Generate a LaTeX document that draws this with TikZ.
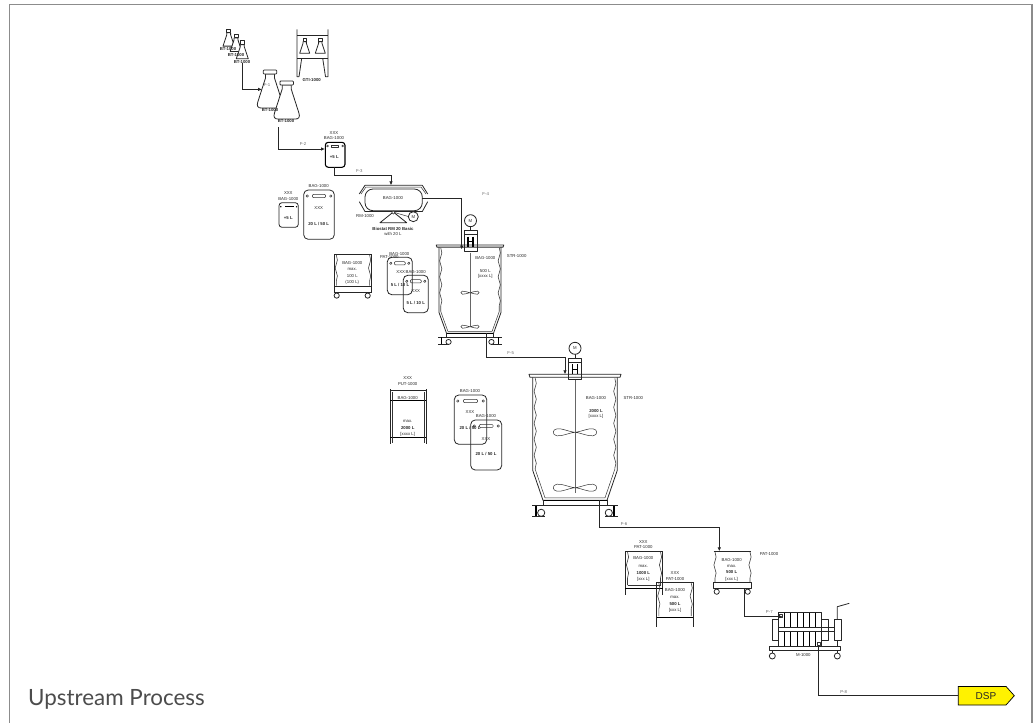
\documentclass[tikz,border=0pt]{standalone}
\usepackage{fontspec}
\setmainfont{Liberation Sans}
\newfontfamily\titlefont{Lato}
\usetikzlibrary{arrows.meta,decorations.pathmorphing}
\definecolor{framegray}{gray}{0.55}
\definecolor{txtgray}{gray}{0.3}
\def\whx{33.8}
\tikzset{
  lbl/.style={inner sep=0pt,font=\fontsize{4.3}{5}\selectfont,text=black!85},
  lblb/.style={lbl,font=\fontsize{4.3}{5}\selectfont\bfseries},
  lblg/.style={lbl,text=black!60},
  pipe/.style={draw=black!85,line width=0.8pt},
  pipearrow/.style={pipe,-{Latex[length=4pt,width=3.6pt]}},
  vessel/.style={draw=black!85,line width=0.8pt,line join=round},
  thickv/.style={draw=black,line width=1.1pt,line join=round},
  thinv/.style={draw=black!80,line width=0.5pt,line join=round},
  wavy/.style={draw=black!75,line width=0.6pt,decorate,decoration={snake,segment length=16pt,amplitude=1.1pt}},
  bigflask/.pic={
    \draw[vessel,fill=white] (-4.5,4) -- (-4.5,8) -- (-12.2,32) .. controls (-13.6,36) and (-12,38) .. (-9,38)
      -- (9,38) .. controls (12,38) and (13.6,36) .. (12.2,32) -- (4.5,8) -- (4.5,4) -- cycle;
    \draw[vessel,fill=white,rounded corners=0.8pt] (-6.7,0) rectangle (6.7,4);
  },
  smallflask/.pic={
    \draw[vessel,fill=white] (-2,4) -- (-2,6) -- (-6,18) -- (6,18) -- (2,6) -- (2,4) -- cycle;
    \draw[vessel,fill=white] (-2,0) rectangle (2,4);
  },
  stirred/.pic={
    \draw[vessel] (-46,0) -- (46,0) -- (45,3) -- (-45,3) -- cycle;
    \draw[vessel] (-42.3,3) -- (-42.3,96) -- (-32,126) -- (32,126) -- (42.3,96) -- (42.3,3);
    \draw[wavy] (-39.8,4) -- (-39.8,95);
    \draw[wavy] (39.8,4) -- (39.8,95);
    \draw[thinv] (-39.8,95) -- (-30,123.5) -- (30,123.5) -- (39.8,95);
    \draw[thickv] (-32,126) -- (32,126);
    \draw[vessel] (-43,131.5) -- (43,131.5);
    \draw[vessel] (-32,126) -- (-32,131.5) (32,126) -- (32,131.5);
    \draw[thickv] (-39,131.5) -- (-39,142) (39,131.5) -- (39,142);
    \draw[vessel] (-43,142) -- (-30,142) (43,142) -- (30,142);
    \draw[vessel,fill=white] (-\whx,138.5) circle (3.6) (\whx,138.5) circle (3.6);
  },
  impeller/.pic={
    \draw[thinv,fill=white] (0,0) .. controls (-8,-1) and (-12,-4) .. (-18,-3.5) .. controls (-23,-3) and (-23,3) .. (-18,3.5) .. controls (-12,4) and (-8,1) .. (0,0)
      .. controls (8,-1) and (12,-4) .. (18,-3.5) .. controls (23,-3) and (23,3) .. (18,3.5) .. controls (12,4) and (8,1) .. (0,0);
  },
  drive/.pic={
    \draw[vessel] (-6.5,0) rectangle (6.5,21);
    \draw[vessel] (-6.5,4) -- (6.5,4);
    \draw[line width=1.3pt] (-2.6,6) -- (-2.6,16) (2.6,6) -- (2.6,16) (-2.6,11) -- (2.6,11);
    \draw[vessel] (0,0) -- (0,-4);
    \draw[vessel,fill=white] (0,-10) circle (6);
    \node[lbl] (-m) at (0,-10) {M};
  },
}
% soft bag: name, x1, y1, x2, y2
\newcommand\softbag[5]{%
  \pgfmathsetmacro\bagm{(#2+#4)/2}%
  \pgfmathsetmacro\bagw{(#4-#2)}%
  \pgfmathsetmacro\slot{0.22*\bagw}%
  \pgfmathsetmacro\slotl{\bagm-\slot}\pgfmathsetmacro\slotr{\bagm+\slot}%
  \pgfmathsetmacro\caly{#3+6}%
  \pgfmathsetmacro\cl{#2+3.5}\pgfmathsetmacro\cr{#4-3.5}%
  \coordinate (#1) at (\bagm,#3);
  \draw[vessel,rounded corners=4.5pt] (#2,#3) rectangle (#4,#5);
  \draw[thinv,rounded corners=1pt] (\slotl,\caly-1.6) rectangle (\slotr,\caly+1.6);
  \draw[thinv] (\cl,\caly) circle (1.2) (\cr,\caly) circle (1.2);
}
\begin{document}
\begin{tikzpicture}[x=1pt,y=-1pt]
\useasboundingbox (0,0) rectangle (1034,723);
% frame
\draw[framegray,line width=1.3pt] (9.5,723) -- (9.5,4.5) -- (1032,4.5) -- (1032,723);
\node[anchor=base west,inner sep=0pt,font=\titlefont\fontsize{22.4}{26}\selectfont,text=txtgray] (title) at (28,705) {Upstream Process};

% ---- small flasks
\path (228.7,29) pic[scale=0.95] {smallflask};
\path (236,34) pic[scale=0.97] {smallflask};
\path (242.3,40.7) pic {smallflask};
\node[lblb] (bt1) at (228,48.7) {BT-1000};
\node[lblb] (bt2) at (236,55) {BT-1000};
\node[lblb] (bt3) at (242,61.7) {BT-1000};
% incubator
\draw[vessel] (297,29.3) -- (297,76.7) -- (299,76.7) -- (301.7,58.3);
\draw[vessel] (328,29.3) -- (328,76.7) -- (325.5,76.7) -- (322.7,58.3);
\draw[vessel] (297,35) -- (328,35);
\draw[vessel] (297,58.3) -- (328,58.3);
\path (304.7,38.3) pic[scale=0.83] {smallflask};
\path (320.3,38.3) pic[scale=0.83] {smallflask};
\node[lblb] (gti) at (311.7,79.7) {GTI-1000};
% big flasks
\path (270,70) pic {bigflask};
\path (286.7,81) pic {bigflask};
\node[lblg] (f1) at (267,85) {F-1};
\node[lblb] (bt4) at (270,110) {BT-1000};
\node[lblb] (bt5) at (286,121) {BT-1000};

% ---- 5 L bag
\coordinate (bagA) at (334.5,142.3);
\draw[thickv,rounded corners=3pt] (325.3,142.3) rectangle (345,167.3);
\draw[thinv] (331,145) rectangle (338.7,147.2);
\draw[thinv] (327.5,146) circle (0.9) (342.7,146) circle (0.9);
\node[lbl] (t1) at (334,132.7) {XXX};
\node[lbl] (t2) at (334,138.3) {BAG-1000};
\node[lblb] (t3) at (334.3,157.3) {+5 L};

% ---- rocker
\draw[vessel,rounded corners=8pt] (365,189) rectangle (422.3,210.7);
\draw[vessel] (359.3,194) -- (365,185.3) -- (422.3,185.3) -- (427.7,194);
\draw[vessel] (359.3,201.7) -- (365,211.5) -- (422.3,211.5) -- (427.7,201.7);
\draw[thinv] (361,194) -- (366,187) -- (421,187) -- (426,194);
\node[lbl] (t4) at (393,198.3) {BAG-1000};
\draw[vessel] (393.3,212) -- (380,222.7) -- (406.7,222.7) -- cycle;
\draw[thinv,fill=white] (393.3,212.5) circle (1.6);
\draw[thinv] (394.5,212.5) -- (409,216.7);
\draw[vessel,fill=white] (413.3,216.7) circle (5);
\node[lbl] (t5) at (413.3,216.7) {M};
\node[lbl] (t6) at (365,216) {RM-1000};
\node[lblb] (t7) at (393,229) {Biostat RM 20 Basic};
\node[lbl] (t8) at (393,234) {with 20 L};
\node[lblg] (t9) at (485.7,194.3) {F-4};

% ---- bags row 1
\draw[vessel,rounded corners=3pt] (279,202.7) rectangle (298.3,227.3);
\draw[line width=1.2pt] (285,206.7) -- (294,206.7);
\fill (280.8,206.7) circle (0.8) (296.6,206.7) circle (0.8);
\node[lbl] (t10) at (288.3,192.7) {XXX};
\node[lbl] (t11) at (288.3,199) {BAG-1000};
\node[lblb] (t12) at (288.3,217.7) {+5 L};
\softbag{bagB}{303.7}{190}{334.3}{239.3}
\node[lbl] (t13) at (318.7,186) {BAG-1000};
\node[lbl] (t14) at (318.7,208.3) {XXX};
\node[lblb] (t15) at (318.7,224) {20 L / 50 L};

% ---- 100 L cart
\draw[vessel] (334,254) -- (334,292.7) (371.7,254) -- (371.7,292.7) (334,254) -- (371.7,254);
\draw[wavy] (336.3,255) -- (336.3,285.5);
\draw[wavy] (369.6,255) -- (369.6,285.5);
\draw[vessel] (334,286) -- (371.7,286) (334,292.7) -- (371.7,292.7);
\draw[vessel] (336.7,295.6) circle (2.6) (367.7,295.6) circle (2.6);
\node[lbl] (t16) at (352.3,263.3) {BAG-1000};
\node[lbl] (t17) at (352.3,269) {max.};
\node[lbl] (t18) at (352.3,276) {100 L};
\node[lbl] (t19) at (352.3,282.3) {(100 L)};

% ---- 5/10 L bags
\softbag{bagC}{387.3}{257.3}{412.3}{294.7}
\softbag{bagD}{403.3}{275.3}{428.3}{312.7}
\node[lbl] (t20) at (389.3,256.7) {PAT-1000};
\node[lbl] (t21) at (399.3,253.7) {BAG-1000};
\node[lbl] (t22) at (400.7,272.3) {XXX};
\node[lblb] (t23) at (400,285) {5 L / 10 L};
\node[lbl] (t24) at (415.7,271.7) {BAG-1000};
\node[lbl] (t25) at (415.7,291) {XXX};
\node[lblb] (t26) at (415.7,302.7) {5 L / 10 L};

% ---- STR 500
\def\whx{29.2}
\path (470,245) pic[xscale=0.735,yscale=0.7] {stirred};
\draw[draw=black!60,line width=0.9pt] (470,252.7) -- (470,327);
\path (470,292.7) pic[xscale=0.42,yscale=0.45] {impeller};
\path (470,326.7) pic[xscale=0.42,yscale=0.45] {impeller};
\path (470.5,230.7) pic (drvA) {drive};
\node[lbl] (t27) at (485.3,257.7) {BAG-1000};
\node[lbl] (t28) at (485.3,270.7) {500 L};
\node[lbl] (t29) at (485.3,276.7) {[xxxx L]};
\node[lbl] (t30) at (516.7,255.7) {STR-1000};

% ---- PAT 2000
\draw[vessel] (390,389.3) -- (390,444.3) (426,389.3) -- (426,444.3);
\draw[vessel] (390,390.7) -- (426,390.7);
\draw[thickv] (390,400.7) -- (426,400.7) (390,437.3) -- (426,437.3);
\draw[thinv] (392,392) -- (392,443) (424,392) -- (424,443);
\node[lbl] (t31) at (407.7,378.3) {XXX};
\node[lbl] (t32) at (407.7,384) {PUT-1000};
\node[lbl] (t33) at (407.7,398) {BAG-1000};
\node[lbl] (t34) at (407.7,421) {max.};
\node[lblb] (t35) at (407.7,427.7) {2000 L};
\node[lbl] (t36) at (407.7,434) {[xxxx L]};

% ---- 20/50 L bags
\softbag{bagE}{454.3}{395}{486.7}{444.3}
\softbag{bagF}{470.7}{420}{501.7}{470}
\node[lbl] (t37) at (470,391) {BAG-1000};
\node[lbl] (t38) at (470,411.7) {XXX};
\node[lblb] (t39) at (470,427.7) {20 L / 50 L};
\node[lbl] (t40) at (486,416.3) {BAG-1000};
\node[lbl] (t41) at (486,439) {XXX};
\node[lblb] (t42) at (486,454) {20 L / 50 L};

% ---- STR 2000
\def\whx{33.8}
\path (575,374.3) pic {stirred};
\draw[draw=black!60,line width=0.9pt] (575,379) -- (575,493);
\path (575,432.3) pic {impeller};
\path (575,487.7) pic {impeller};
\path (575,358.3) pic (drvB) {drive};
\node[lbl] (t43) at (596,397.7) {BAG-1000};
\node[lblb] (t44) at (596,410.7) {2000 L};
\node[lbl] (t45) at (596,416.7) {[xxxx L]};
\node[lbl] (t46) at (633.3,397.7) {STR-1000};

% ---- carts A,B,C
\draw[vessel] (625.3,551.3) -- (625.3,595) (662.7,551.3) -- (662.7,595) (625.3,551.3) -- (662.7,551.3);
\draw[wavy] (627.5,552) -- (627.5,585);
\draw[wavy] (660.5,552) -- (660.5,585);
\draw[thinv] (627.5,585.3) -- (660.5,585.3);
\draw[thickv] (625.3,588.3) -- (662.7,588.3);
\node[lbl] (t47) at (643.3,542) {XXX};
\node[lbl] (t48) at (643.3,547) {PAT-1000};
\node[lbl] (t49) at (643.3,558) {BAG-1000};
\node[lbl] (t50) at (643.3,566) {max.};
\node[lblb] (t51) at (643.3,572.7) {1000 L};
\node[lbl] (t52) at (643.3,579) {[xxx L]};

\draw[vessel] (656.7,582.3) -- (656.7,626.7) (693.3,582.3) -- (693.3,626.7) (656.7,582.3) -- (693.3,582.3);
\draw[wavy] (658.8,583) -- (658.8,616);
\draw[wavy] (691.2,583) -- (691.2,616);
\draw[thickv] (656.7,617.7) -- (693.3,617.7);
\node[lbl] (t53) at (675,572.7) {XXX};
\node[lbl] (t54) at (675,578.7) {PAT-1000};
\node[lbl] (t55) at (675,590) {BAG-1000};
\node[lbl] (t56) at (675,597.3) {max.};
\node[lblb] (t57) at (675,603.7) {500 L};
\node[lbl] (t58) at (675,610.3) {[xxx L]};

\draw[vessel] (713.7,551.3) -- (751.3,551.3);
\draw[wavy] (715,552) -- (715,582);
\draw[wavy] (750,552) -- (750,582);
\draw[vessel] (713.7,582.3) rectangle (751.3,588.3);
\draw[vessel] (716.7,591.7) circle (2.6) (747.7,591.7) circle (2.6);
\node[lbl] (t59) at (731.7,560) {BAG-1000};
\node[lbl] (t60) at (731.7,566) {max.};
\node[lblb] (t61) at (731.7,572.3) {500 L};
\node[lbl] (t62) at (731.7,579) {[xxx L]};
\node[lbl] (t63) at (769,554) {PAT-1000};

% ---- filter
\draw[vessel] (778.3,612.7) rectangle (821.7,646.7);
\foreach \px in {784.2,790.7,797,803.3,809.3,815.7} \draw[thickv,line width=0.9pt] (\px,612.7) -- (\px,646.7);
\draw[vessel,fill=white] (778.3,627.3) rectangle (834,631);
\draw[vessel] (772.3,619) rectangle (778.3,640.3);
\draw[vessel] (821.7,619) rectangle (828.3,640.3);
\draw[vessel,fill=white] (834,619) rectangle (841,640.3);
\draw[vessel] (837.3,619) -- (837.3,606.7) -- (849.3,603.3);
\draw[vessel] (837.3,640.3) -- (837.3,646.7);
\draw[vessel] (769,646.7) rectangle (840.7,650.7);
\draw[vessel] (772.3,650.7) -- (772.3,653) (837.3,650.7) -- (837.3,653);
\draw[vessel] (772.3,656) circle (3) (837.3,656) circle (3);
\draw[thinv] (778.8,614.5) rectangle (782,617.5);
\draw[thinv] (816.8,642.5) rectangle (820,645.5);
\node[lbl] (t64) at (803.3,655.3) {M-1000};

% ---- DSP tag
\draw[draw=black,line width=0.7pt,fill=yellow,line join=miter] (958.3,686.4) -- (1006,686.4) -- (1014.3,695.7) -- (1006,705) -- (958.3,705) -- cycle;
\coordinate (dspw) at (958.3,695.7);
\node[inner sep=0pt,font=\fontsize{10}{11}\selectfont,text=black!85] (dsp) at (986,695.7) {DSP};

% ---- connector end points
\coordinate (a1) at (242.3,63);
\coordinate (a2) at (262,89.4);
\coordinate (b1) at (278.4,127);
\coordinate (b2) at (325,149);
\coordinate (c1) at (334.5,167.3);
\coordinate (c2) at (391,185.3);
\coordinate (d1) at (422.3,198.3);
\coordinate (d2) at (461.7,249.5);
\coordinate (e1) at (486.7,333.3);
\coordinate (e2) at (565,374.3);
\coordinate (f1p) at (599.3,500.3);
\coordinate (f2p) at (719.3,551.3);
\coordinate (g1) at (744.7,588.3);
\coordinate (g2) at (782.7,616.7);
\coordinate (h1) at (818.5,645);

% ---- connectors
\draw[pipearrow] (a1) |- (a2);
\draw[pipearrow] (b1) |- (b2);
\draw[pipearrow] (c1) -- (c1 |- 0,175.3) -| (c2);
\draw[pipearrow] (d1) -| (d2);
\draw[pipearrow] (e1) -- (e1 |- 0,357) -| (e2);
\draw[pipearrow] (f1p) -- (f1p |- 0,527.8) -| (f2p);
\draw[pipearrow] (g1) |- (g2);
\draw[pipe] (h1) |- (dspw);

% ---- connector labels
\node[lblg] (p2) at (303,144.3) {F-2};
\node[lblg] (p3) at (359.3,171) {F-3};
\node[lblg] (p5) at (510.7,353.3) {F-5};
\node[lblg] (p6) at (624,524) {F-6};
\node[lblg] (p7) at (769.3,612) {P-7};
\node[lblg] (p8) at (843.7,692) {P-8};
\end{tikzpicture}
\end{document}
